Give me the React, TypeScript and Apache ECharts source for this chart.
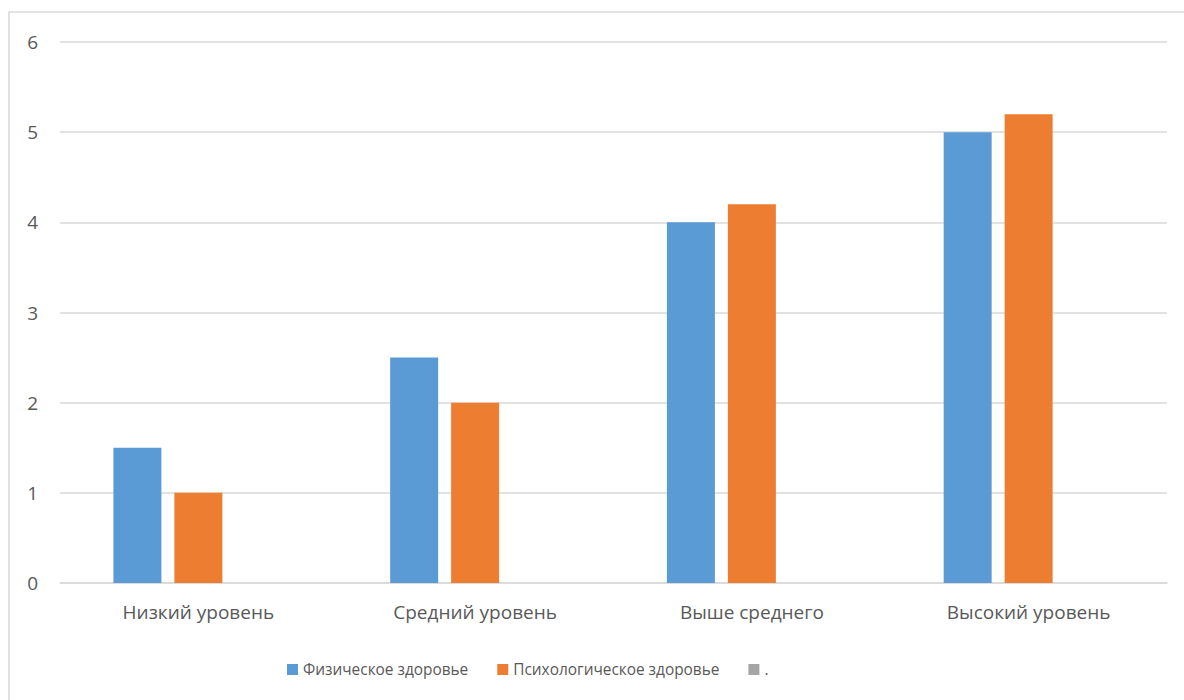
import React, { useEffect, useRef } from "react";
import * as echarts from "echarts";

const categories = ["Низкий уровень", "Средний уровень", "Выше среднего", "Высокий уровень"];
const physical = [1.5, 2.5, 4, 5];
const psychological = [1, 2, 4.2, 5.2];
const dotSeries = [null, null, null, null];
const seriesNames = ["Физическое здоровье", "Психологическое здоровье", "."];

const FONT = "'Open Sans', sans-serif";

export default function App() {
  const ref = useRef<HTMLDivElement>(null);
  useEffect(() => {
    const chart = echarts.init(ref.current!, null, { renderer: "svg" });
    chart.setOption({
      animation: false,
      backgroundColor: "#ffffff",
      textStyle: { fontFamily: FONT },
      graphic: [
        {
          type: "rect",
          shape: { x: 9, y: 12, width: 1300, height: 800 },
          style: { fill: "none", stroke: "#d9d9d9", lineWidth: 1.5 },
          silent: true,
          z: -1,
        },
      ],
      grid: { left: 60, right: 17, top: 42, bottom: 117, containLabel: false },
      legend: {
        top: 657,
        left: 282,
        itemWidth: 11,
        itemHeight: 11,
        itemGap: 29,
        icon: "rect",
        textStyle: { fontFamily: FONT, fontSize: 15.4, color: "#595959" },
        data: seriesNames,
      },
      xAxis: {
        type: "category",
        data: categories,
        axisTick: { show: false },
        axisLine: { lineStyle: { color: "#d9d9d9", width: 1.5 } },
        axisLabel: { fontFamily: FONT, fontSize: 19, color: "#595959", margin: 19 },
      },
      yAxis: {
        type: "value",
        min: 0,
        max: 6,
        interval: 1,
        axisLine: { show: false },
        axisTick: { show: false },
        splitLine: { lineStyle: { color: "#d9d9d9", width: 1.5 } },
        axisLabel: { fontFamily: FONT, fontSize: 19, color: "#595959", margin: 22 },
      },
      series: [
        { name: seriesNames[0], type: "bar", data: physical, barWidth: 48, barGap: "27%", itemStyle: { color: "#5b9bd5" } },
        { name: seriesNames[1], type: "bar", data: psychological, barWidth: 48, barGap: "27%", itemStyle: { color: "#ed7d31" } },
        { name: seriesNames[2], type: "bar", data: dotSeries, barWidth: 48, barGap: "27%", itemStyle: { color: "#a5a5a5" } },
      ],
    });
    return () => chart.dispose();
  }, []);
  return (
    <div
      ref={ref}
      style={{ position: "absolute", left: 0, top: 0, width: 1184, height: 700 }}
    />
  );
}
